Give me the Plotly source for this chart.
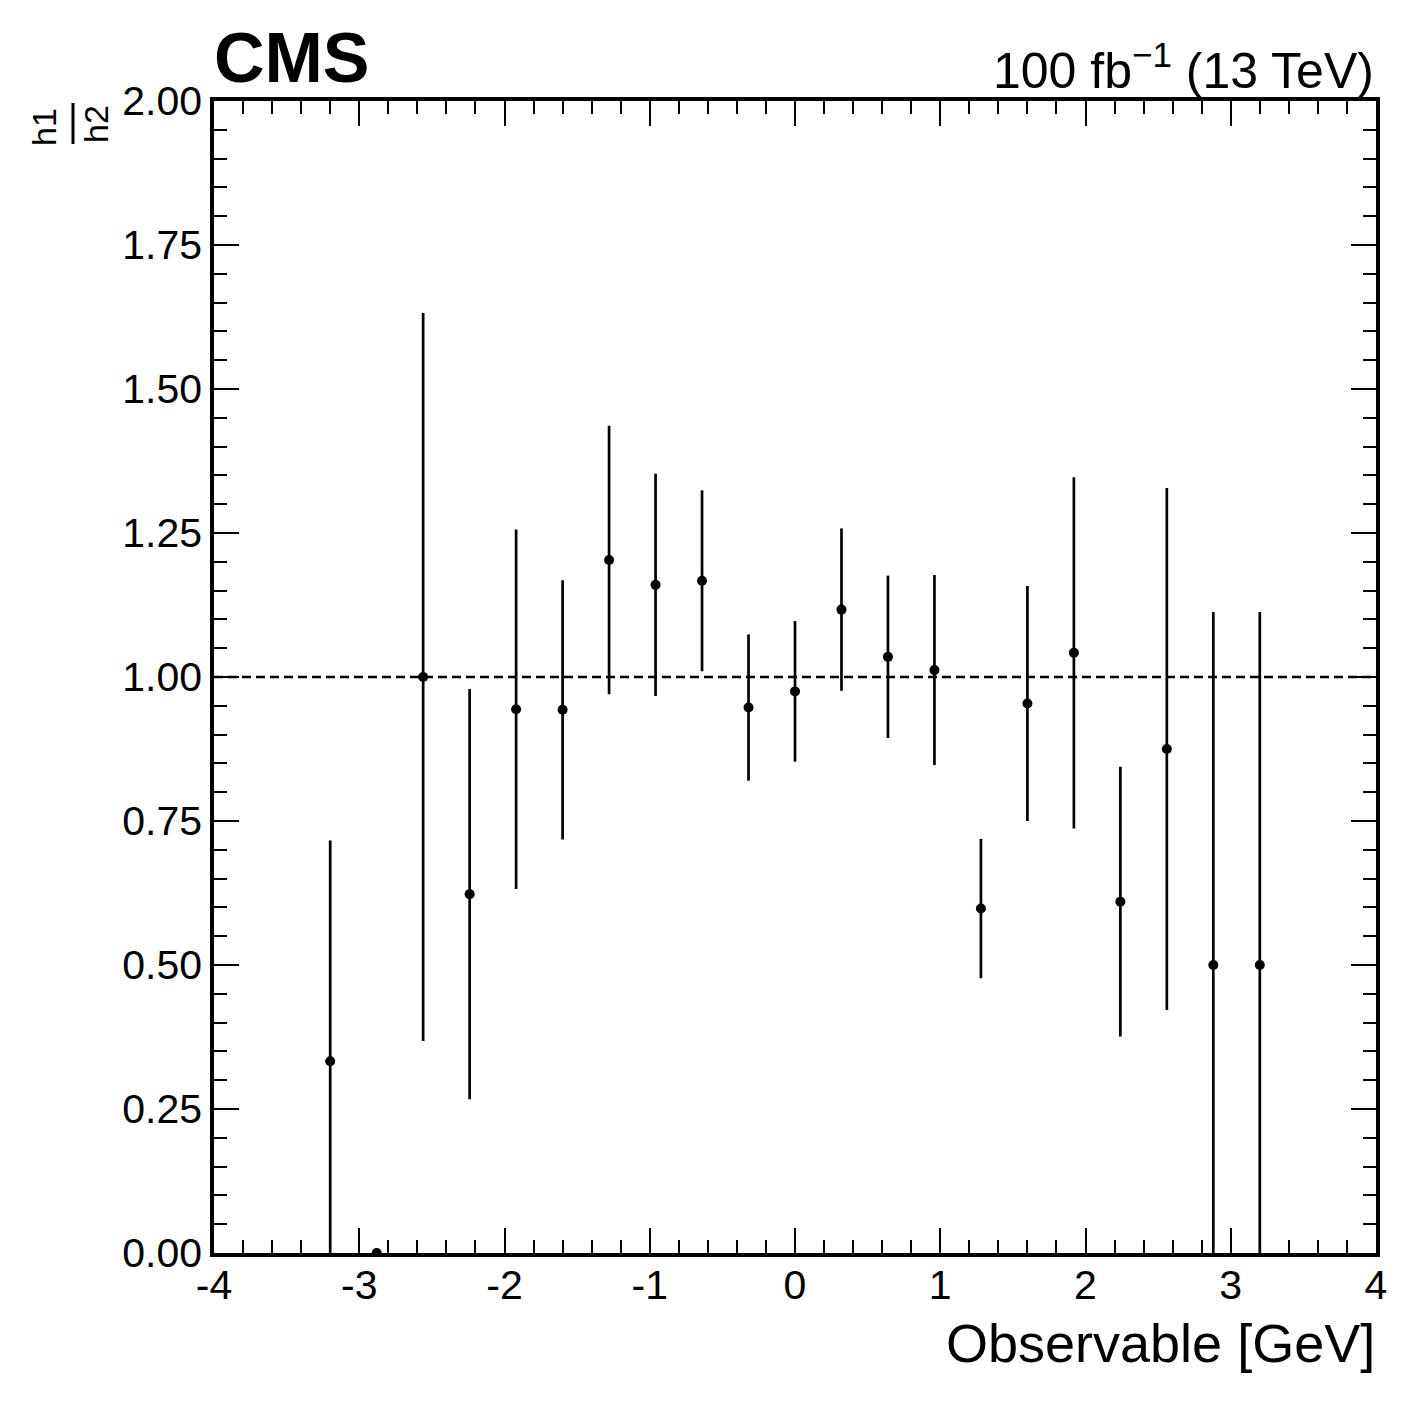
import plotly.graph_objects as go

# bin centres (width 0.32) that carry a ratio value
bin_centers = [-3.20, -2.88, -2.56, -2.24, -1.92, -1.60, -1.28, -0.96, -0.64, -0.32,
               0.00, 0.32, 0.64, 0.96, 1.28, 1.60, 1.92, 2.24, 2.56, 2.88, 3.20]
ratio = [0.333, 0.0, 1.000, 0.623, 0.944, 0.943, 1.203, 1.160, 1.167, 0.947,
         0.975, 1.117, 1.035, 1.012, 0.598, 0.954, 1.042, 0.610, 0.875, 0.500, 0.500]
ratio_err = [0.383, 0.0, 0.632, 0.356, 0.312, 0.225, 0.233, 0.193, 0.157, 0.127,
             0.122, 0.141, 0.141, 0.165, 0.121, 0.204, 0.305, 0.234, 0.453, 0.613, 0.613]

x_ticks = [-4, -3, -2, -1, 0, 1, 2, 3, 4]
x_tick_labels = ["-4", "-3", "-2", "-1", "0", "1", "2", "3", "4"]
ref_line = [1.0, 1.0]
x_range = [-4, 4]

FONT = "Liberation Sans, Arial, Helvetica, sans-serif"
# page body has an 8px margin, so the figure is a bit smaller than the window
W, H = 1402, 1389
L, T = 206, 93
R = W - (1376 - 8)
B = H - (1253 - 8)

# frame edges in window pixels, used to place the free texts
FX0, FX1, FY0, FY1 = 214, 1376, 101, 1253


def px(x):
    return (x - FX0) / (FX1 - FX0)


def py(y):
    return (FY1 - y) / (FY1 - FY0)


fig = go.Figure()

fig.add_trace(go.Scatter(
    x=x_range, y=ref_line, mode="lines",
    line=dict(color="black", width=2.5, dash="9px,5px"),
    hoverinfo="skip", showlegend=False,
))

fig.add_trace(go.Scatter(
    x=bin_centers, y=ratio, mode="markers",
    marker=dict(color="black", size=10),
    error_y=dict(type="data", array=ratio_err, visible=True,
                 color="black", thickness=2.7, width=0),
    showlegend=False,
))

axis_common = dict(
    showline=True, linecolor="black", linewidth=3.5, mirror="allticks",
    ticks="inside", tickcolor="black", tickwidth=2, ticklen=25,
    showgrid=False, zeroline=False,
    tickfont=dict(family=FONT, size=41, color="black"),
)

fig.update_xaxes(
    range=x_range, tickmode="array", tickvals=x_ticks, ticktext=x_tick_labels,
    minor=dict(tickmode="linear", tick0=-4, dtick=0.2, ticks="inside",
               ticklen=13, tickwidth=2, tickcolor="black"),
    ticklabelstandoff=-7,
    **axis_common,
)
fig.update_yaxes(
    range=[0, 2], dtick=0.25, tick0=0, tickformat=".2f",
    minor=dict(tickmode="linear", tick0=0, dtick=0.05, ticks="inside",
               ticklen=13, tickwidth=2, tickcolor="black"),
    ticklabelstandoff=0,
    **axis_common,
)

annotations = [
    dict(text="<b>CMS</b>", x=px(212), y=py(58), xanchor="left", yanchor="middle",
         font=dict(family=FONT, size=70, color="black")),
    dict(text="100 fb<sup>\u22121</sup> (13 TeV)", x=px(1376), y=py(67),
         xanchor="right", yanchor="middle",
         font=dict(family=FONT, size=50, color="black")),
    dict(text="Observable [GeV]", x=px(1377), y=py(1343), xanchor="right", yanchor="middle",
         font=dict(family=FONT, size=54, color="black")),
    dict(text="h1", x=px(44), y=py(127), xanchor="center", yanchor="middle",
         textangle=-90, font=dict(family=FONT, size=34, color="black")),
    dict(text="h2", x=px(96), y=py(124), xanchor="center", yanchor="middle",
         textangle=-90, font=dict(family=FONT, size=34, color="black")),
]
for a in annotations:
    a.update(xref="paper", yref="paper", showarrow=False)

fig.add_shape(type="line", xref="paper", yref="paper",
              x0=px(73), x1=px(73), y0=py(103), y1=py(144),
              line=dict(color="black", width=3))

fig.update_layout(
    width=W, height=H,
    margin=dict(l=L, r=R, t=T, b=B),
    paper_bgcolor="white", plot_bgcolor="white",
    annotations=annotations,
    font=dict(family=FONT, color="black"),
)

fig.write_html("out.html")
